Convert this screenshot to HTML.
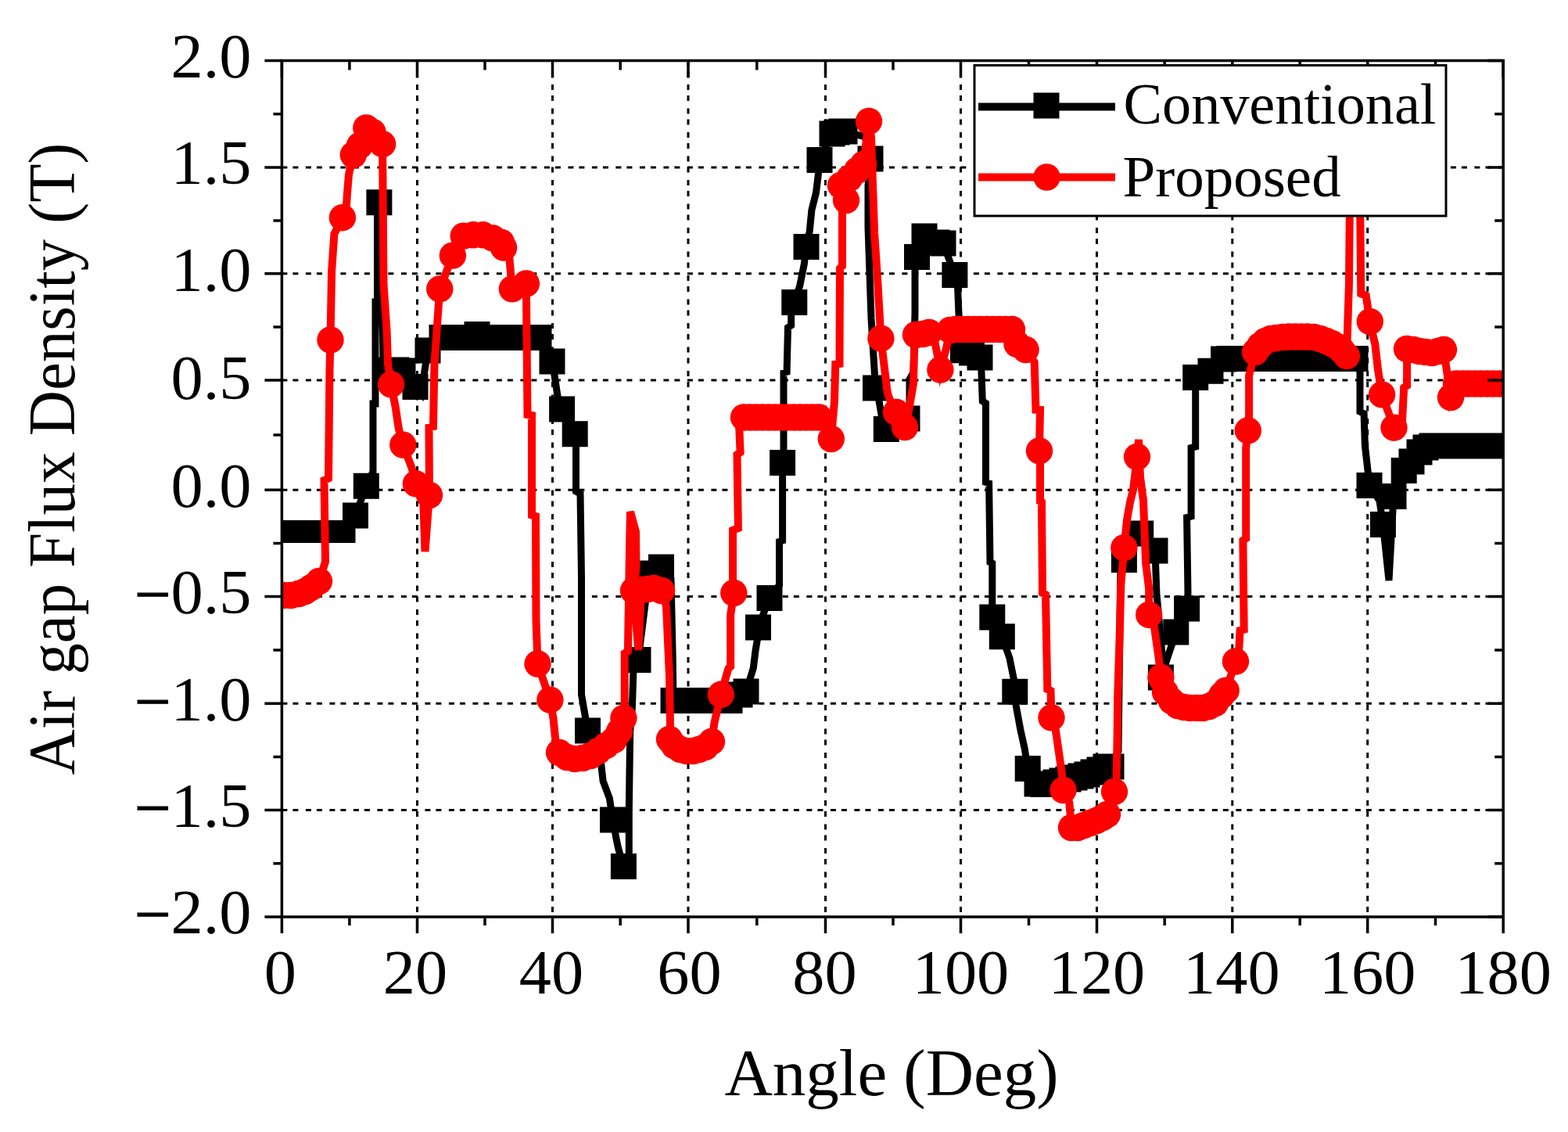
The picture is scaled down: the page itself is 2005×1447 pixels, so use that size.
<!DOCTYPE html><html><head><meta charset="utf-8"><style>html,body{margin:0;padding:0;background:#fff;}svg{display:block;}text{font-family:"Liberation Serif","Times New Roman",serif;fill:#000;}</style></head><body>
<svg width="2005" height="1447" viewBox="0 0 2005 1447">
<rect width="2005" height="1447" fill="#fff"/>
<defs><clipPath id="pc"><rect x="360.4" y="77.5" width="1561.8000000000002" height="1094.5"/></clipPath></defs>
<path d="M360.4 214H1922.2M360.4 349.8H1922.2M360.4 486H1922.2M360.4 626.2H1922.2M360.4 762.5H1922.2M360.4 899.2H1922.2M360.4 1035.5H1922.2M533.5 77.5V1172M706.5 77.5V1172M880 77.5V1172M1055.5 77.5V1172M1228.5 77.5V1172M1402.5 77.5V1172M1575.8 77.5V1172M1748.7 77.5V1172" stroke="#000" stroke-width="3.0" stroke-dasharray="7 7 7 9.5" fill="none"/>
<g clip-path="url(#pc)">
<path d="M325.5 665h33v29h-33zM333.5 665h33v29h-33zM341.5 665h33v29h-33zM349.5 665h33v29h-33zM357.5 665h33v29h-33zM365.5 665h33v29h-33zM373.5 665h33v29h-33zM381.5 665h33v29h-33zM389.5 665h33v29h-33zM397.5 665h33v29h-33zM405.5 665h33v29h-33zM413.5 665h33v29h-33zM421.5 665h33v29h-33zM438 642.6h33v33h-33zM451.8 604.7h33v33h-33zM468.4 242.3h33v33h-33zM482.5 456.5h33v33h-33zM490.5 456.5h33v33h-33zM498.5 457.5h33v33h-33zM514.5 478h33v33h-33zM530.5 431.5h33v33h-33zM548.5 415h33v33h-33zM556.5 415h33v33h-33zM564.5 415h33v33h-33zM572.5 415h33v33h-33zM580.5 415h33v33h-33zM588.5 415h33v33h-33zM593.5 411h33v33h-33zM596.5 415h33v33h-33zM604.5 415h33v33h-33zM612.5 415h33v33h-33zM620.5 415h33v33h-33zM628.5 415h33v33h-33zM636.5 415h33v33h-33zM644.5 415h33v33h-33zM652.5 415h33v33h-33zM660.5 415h33v33h-33zM668.5 415h33v33h-33zM672.5 415h33v33h-33zM689.5 445.5h33v33h-33zM702.1 506.5h33v33h-33zM718.7 538.3h33v33h-33zM735 917.5h33v33h-33zM767 1031.6h33v33h-33zM780.9 1091.1h33v33h-33zM799.5 827h33v33h-33zM813.5 716.5h33v33h-33zM829 708.5h33v33h-33zM844.5 879h33v33h-33zM852.5 879h33v33h-33zM860.5 879h33v33h-33zM868.5 879h33v33h-33zM876.5 879h33v33h-33zM884.5 879h33v33h-33zM892.5 879h33v33h-33zM900.5 879h33v33h-33zM908.5 879h33v33h-33zM916.5 879h33v33h-33zM929.5 871.5h33v33h-33zM937.5 867.5h33v33h-33zM953 785.5h33v33h-33zM967.5 748h33v33h-33zM984.1 575h33v33h-33zM999.3 370h33v33h-33zM1014.5 299h33v33h-33zM1031.5 188h33v33h-33zM1047.5 154.5h33v33h-33zM1053.5 152.5h33v33h-33zM1059.5 151.5h33v33h-33zM1063.5 151.5h33v33h-33zM1096.5 186.5h33v33h-33zM1103 479.6h33v33h-33zM1116.8 532.1h33v33h-33zM1131.5 528.5h33v33h-33zM1143.5 518.5h33v33h-33zM1156 312h33v33h-33zM1165.5 285.5h33v33h-33zM1173.5 293.5h33v33h-33zM1181.5 293.5h33v33h-33zM1189.5 294.5h33v33h-33zM1204.4 334.9h33v33h-33zM1214.9 431.2h33v33h-33zM1226 434.5h33v33h-33zM1236.5 440.5h33v33h-33zM1252.3 772.5h33v33h-33zM1264.8 797.2h33v33h-33zM1281.3 867.7h33v33h-33zM1297.7 966h33v33h-33zM1309.5 985.5h33v33h-33zM1317.5 986.1h33v33h-33zM1325.5 985.5h33v33h-33zM1333.5 983.5h33v33h-33zM1341.5 981.5h33v33h-33zM1349.5 979.5h33v33h-33zM1357.5 977.5h33v33h-33zM1365.5 975.5h33v33h-33zM1373.5 973.5h33v33h-33zM1381.5 970.5h33v33h-33zM1389.5 967.5h33v33h-33zM1397.5 963.5h33v33h-33zM1404.5 963.5h33v33h-33zM1420.9 698.9h33v33h-33zM1442.2 665.5h33v33h-33zM1460.5 687.5h33v33h-33zM1467.9 849.5h33v33h-33zM1487.3 791.5h33v33h-33zM1501.1 761.5h33v33h-33zM1512.2 466h33v33h-33zM1531.5 457.7h33v33h-33zM1548.1 442.5h33v33h-33zM1555.5 442h33v33h-33zM1562.5 442h33v33h-33zM1569.5 442h33v33h-33zM1576.5 442h33v33h-33zM1583.5 442h33v33h-33zM1590.5 442h33v33h-33zM1597.5 442h33v33h-33zM1604.5 442h33v33h-33zM1611.5 442h33v33h-33zM1618.5 442h33v33h-33zM1625.5 442h33v33h-33zM1632.5 442h33v33h-33zM1639.5 442h33v33h-33zM1646.5 442h33v33h-33zM1653.5 442h33v33h-33zM1660.5 442h33v33h-33zM1667.5 442h33v33h-33zM1674.5 442h33v33h-33zM1681.5 442h33v33h-33zM1688.5 442h33v33h-33zM1695.5 442h33v33h-33zM1702.5 442h33v33h-33zM1709.5 442h33v33h-33zM1716.5 442h33v33h-33zM1734.5 604h33v33h-33zM1751.9 653.9h33v33h-33zM1765.5 618.1h33v33h-33zM1778.7 584.9h33v33h-33zM1788.5 573.5h33v33h-33zM1798.5 561.5h33v33h-33zM1806.5 555.5h33v33h-33zM1814.5 553.5h33v33h-33zM1822.5 553.5h33v33h-33zM1830.5 553.5h33v33h-33zM1838.5 553.5h33v33h-33zM1846.5 553.5h33v33h-33zM1854.5 553.5h33v33h-33zM1862.5 553.5h33v33h-33zM1870.5 553.5h33v33h-33zM1878.5 553.5h33v33h-33zM1886.5 553.5h33v33h-33zM1894.5 553.5h33v33h-33zM1902.5 553.5h33v33h-33zM1910.5 553.5h33v33h-33zM1918.5 553.5h33v33h-33z" fill="#000"/>
<polyline points="342,679.5 350,679.5 358,679.5 366,679.5 374,679.5 382,679.5 390,679.5 398,679.5 406,679.5 414,679.5 422,679.5 430,679.5 438,679.5 454.5,659.1 468.3,621.2 477,603 477,516 480,516 480,386 482.5,386 482.5,270 484.9,258.8 489.5,430 490,458 499,473 507,473 515,474 531,494.5 538.5,503 547,448 565,431.5 573,431.5 581,431.5 589,431.5 597,431.5 605,431.5 610,427.5 613,431.5 621,431.5 629,431.5 637,431.5 645,431.5 653,431.5 661,431.5 669,431.5 677,431.5 685,431.5 689,431.5 706,462 708.9,478.8 713,506.5 718.6,523 735.2,554.8 736.5,570 736.5,628 742,631 743.5,738.7 743.5,887.8 751.5,934 768.3,973.5 771.1,998.4 779.4,1020.5 783.5,1048.1 787.7,1070.3 790.5,1084.1 797.4,1107.6 804.3,1092.4 804.3,1037.1 805.7,934.8 808.4,904.4 809.8,860.2 816,843.5 830,733 845.5,725 858,740 860,830 861,895.5 869,895.5 877,895.5 885,895.5 893,895.5 901,895.5 909,895.5 917,895.5 925,895.5 933,895.5 946,888 954,884 963.3,854 966,831.9 968.8,815.3 969.5,802 984,764.5 996.5,747.7 996.5,692.4 1000.6,691 1000.6,606.7 1000.6,591.5 1002,573.5 1002,476.8 1006.1,475.4 1007.5,418.7 1011.7,415.9 1011.7,402.1 1015.8,386.5 1022.7,365.3 1028.3,337.6 1031,315.5 1035.2,296.1 1037.9,268.5 1043.5,246.4 1046.2,224.3 1048,204.5 1064,171 1070,169 1076,168 1080,168 1106,175 1113,203 1110,237 1110,291 1114,406.7 1119.5,496.1 1123.6,509.9 1129.2,543.1 1133.3,548.6 1148,545 1160,535 1163,520 1163,485 1168,476 1170,400 1170,340 1172.5,328.5 1182,302 1190,310 1198,310 1206,311 1220.9,351.4 1224.5,365.3 1226,402 1231.4,447.7 1242.5,451 1253,457 1254.9,474 1256.3,512.7 1260.5,515.5 1260.5,616.4 1264.6,617.7 1266,718.6 1268.8,720 1268.8,789 1281.3,813.7 1290.9,841.1 1296.5,868.8 1297.8,884.2 1299.2,902 1304.8,932.4 1310.3,957.3 1314.2,982.5 1326,1002 1334,1002.6 1342,1002 1350,1000 1358,998 1366,996 1374,994 1382,992 1390,990 1398,987 1406,984 1414,980 1421,980 1430,960 1433,720 1437.4,715.4 1458.7,682 1477,704 1478.9,758.2 1487.2,849.4 1484.4,866 1503.8,808 1517.6,778 1519,758.2 1517.6,661.5 1523.1,660.1 1523.1,572.4 1528.7,571 1528.7,495 1528.7,482.5 1548,474.2 1564.6,459 1572,458.5 1579,458.5 1586,458.5 1593,458.5 1600,458.5 1607,458.5 1614,458.5 1621,458.5 1628,458.5 1635,458.5 1642,458.5 1649,458.5 1656,458.5 1663,458.5 1670,458.5 1677,458.5 1684,458.5 1691,458.5 1698,458.5 1705,458.5 1712,458.5 1719,458.5 1726,458.5 1733,458.5 1739,475 1739,526.2 1744.1,528.7 1745.4,569.6 1749.2,602.9 1751,620.5 1764,640 1768.4,670.4 1776,742 1782,634.6 1795.2,601.4 1805,590 1815,578 1823,572 1831,570 1839,570 1847,570 1855,570 1863,570 1871,570 1879,570 1887,570 1895,570 1903,570 1911,570 1919,570 1927,570 1935,570" fill="none" stroke="#000" stroke-width="9" stroke-linejoin="miter" stroke-miterlimit="6"/>
<g fill="#f00"><circle cx="345" cy="761" r="17.2"/><circle cx="352" cy="761" r="17.2"/><circle cx="362" cy="761" r="17.2"/><circle cx="372" cy="761" r="17.2"/><circle cx="382" cy="759" r="17.2"/><circle cx="390" cy="756" r="17.2"/><circle cx="398" cy="751" r="17.2"/><circle cx="408" cy="743" r="17.2"/><circle cx="422.5" cy="434.5" r="17.2"/><circle cx="437.9" cy="278.2" r="17.2"/><circle cx="451.8" cy="198" r="17.2"/><circle cx="460" cy="186" r="17.2"/><circle cx="468.3" cy="163.5" r="17.2"/><circle cx="476.6" cy="169" r="17.2"/><circle cx="489.1" cy="184.2" r="17.2"/><circle cx="500.1" cy="491.3" r="17.2"/><circle cx="515.3" cy="568.7" r="17.2"/><circle cx="531.9" cy="618.4" r="17.2"/><circle cx="549" cy="633" r="17.2"/><circle cx="562.3" cy="369.4" r="17.2"/><circle cx="578.9" cy="326.6" r="17.2"/><circle cx="592.7" cy="301.7" r="17.2"/><circle cx="605.2" cy="300.3" r="17.2"/><circle cx="617.6" cy="300.3" r="17.2"/><circle cx="630" cy="304.4" r="17.2"/><circle cx="641.1" cy="310" r="17.2"/><circle cx="644.1" cy="316.6" r="17.2"/><circle cx="654.9" cy="369.4" r="17.2"/><circle cx="672.9" cy="362.5" r="17.2"/><circle cx="687.5" cy="848.5" r="17.2"/><circle cx="703.4" cy="894.7" r="17.2"/><circle cx="715" cy="962" r="17.2"/><circle cx="725" cy="968" r="17.2"/><circle cx="735" cy="970" r="17.2"/><circle cx="745" cy="969" r="17.2"/><circle cx="755" cy="966" r="17.2"/><circle cx="765" cy="960" r="17.2"/><circle cx="775" cy="953" r="17.2"/><circle cx="785" cy="946" r="17.2"/><circle cx="792" cy="935" r="17.2"/><circle cx="797.4" cy="918" r="17.2"/><circle cx="810" cy="755" r="17.2"/><circle cx="820" cy="754" r="17.2"/><circle cx="828" cy="753" r="17.2"/><circle cx="836" cy="752" r="17.2"/><circle cx="846" cy="755" r="17.2"/><circle cx="856" cy="945" r="17.2"/><circle cx="862" cy="953" r="17.2"/><circle cx="870" cy="958" r="17.2"/><circle cx="878" cy="960" r="17.2"/><circle cx="886" cy="960" r="17.2"/><circle cx="894" cy="958" r="17.2"/><circle cx="902" cy="955" r="17.2"/><circle cx="910" cy="948" r="17.2"/><circle cx="921.8" cy="887.8" r="17.2"/><circle cx="938.3" cy="758" r="17.2"/><circle cx="951" cy="533.5" r="17.2"/><circle cx="959" cy="533.5" r="17.2"/><circle cx="967" cy="533.5" r="17.2"/><circle cx="975" cy="533.5" r="17.2"/><circle cx="983" cy="533.5" r="17.2"/><circle cx="991" cy="533.5" r="17.2"/><circle cx="999" cy="533.5" r="17.2"/><circle cx="1007" cy="533.5" r="17.2"/><circle cx="1015" cy="533.5" r="17.2"/><circle cx="1023" cy="533.5" r="17.2"/><circle cx="1031" cy="533.5" r="17.2"/><circle cx="1039" cy="533.5" r="17.2"/><circle cx="1047" cy="533.5" r="17.2"/><circle cx="1062.8" cy="561" r="17.2"/><circle cx="1082" cy="256" r="17.2"/><circle cx="1075" cy="237" r="17.2"/><circle cx="1086" cy="228" r="17.2"/><circle cx="1096" cy="218" r="17.2"/><circle cx="1104" cy="210" r="17.2"/><circle cx="1111" cy="155" r="17.2"/><circle cx="1126.4" cy="432.7" r="17.2"/><circle cx="1146" cy="527" r="17.2"/><circle cx="1157" cy="546" r="17.2"/><circle cx="1171" cy="428" r="17.2"/><circle cx="1180" cy="427" r="17.2"/><circle cx="1188" cy="425" r="17.2"/><circle cx="1202.4" cy="472.6" r="17.2"/><circle cx="1215" cy="422" r="17.2"/><circle cx="1222" cy="421" r="17.2"/><circle cx="1230" cy="421" r="17.2"/><circle cx="1238" cy="421" r="17.2"/><circle cx="1246" cy="421" r="17.2"/><circle cx="1254" cy="421" r="17.2"/><circle cx="1262" cy="421" r="17.2"/><circle cx="1270" cy="421" r="17.2"/><circle cx="1278" cy="421" r="17.2"/><circle cx="1286" cy="421" r="17.2"/><circle cx="1294" cy="421" r="17.2"/><circle cx="1300.5" cy="440" r="17.2"/><circle cx="1311.6" cy="447" r="17.2"/><circle cx="1329" cy="576.4" r="17.2"/><circle cx="1344.5" cy="917.3" r="17.2"/><circle cx="1359.5" cy="1010" r="17.2"/><circle cx="1370" cy="1058" r="17.2"/><circle cx="1378" cy="1058" r="17.2"/><circle cx="1386" cy="1055" r="17.2"/><circle cx="1394" cy="1052" r="17.2"/><circle cx="1402" cy="1049" r="17.2"/><circle cx="1410" cy="1045" r="17.2"/><circle cx="1416" cy="1041" r="17.2"/><circle cx="1425" cy="1012" r="17.2"/><circle cx="1437.4" cy="700.2" r="17.2"/><circle cx="1454" cy="584" r="17.2"/><circle cx="1469.2" cy="785.9" r="17.2"/><circle cx="1484.4" cy="866" r="17.2"/><circle cx="1490" cy="885" r="17.2"/><circle cx="1498" cy="896" r="17.2"/><circle cx="1506" cy="902" r="17.2"/><circle cx="1514" cy="904" r="17.2"/><circle cx="1522" cy="905" r="17.2"/><circle cx="1530" cy="905" r="17.2"/><circle cx="1538" cy="905" r="17.2"/><circle cx="1546" cy="903" r="17.2"/><circle cx="1554" cy="899" r="17.2"/><circle cx="1562" cy="889" r="17.2"/><circle cx="1567.7" cy="882.6" r="17.2"/><circle cx="1580" cy="845.5" r="17.2"/><circle cx="1595.8" cy="550.3" r="17.2"/><circle cx="1605" cy="450" r="17.2"/><circle cx="1611" cy="442" r="17.2"/><circle cx="1618" cy="436" r="17.2"/><circle cx="1625" cy="433" r="17.2"/><circle cx="1632" cy="432" r="17.2"/><circle cx="1640" cy="431" r="17.2"/><circle cx="1648" cy="430.5" r="17.2"/><circle cx="1656" cy="430.5" r="17.2"/><circle cx="1664" cy="430.5" r="17.2"/><circle cx="1672" cy="430.5" r="17.2"/><circle cx="1680" cy="431" r="17.2"/><circle cx="1688" cy="433" r="17.2"/><circle cx="1696" cy="436" r="17.2"/><circle cx="1703" cy="439" r="17.2"/><circle cx="1710" cy="443" r="17.2"/><circle cx="1716" cy="448" r="17.2"/><circle cx="1722" cy="455" r="17.2"/><circle cx="1751.8" cy="411.1" r="17.2"/><circle cx="1767.1" cy="504.4" r="17.2"/><circle cx="1782.5" cy="546.6" r="17.2"/><circle cx="1799" cy="446" r="17.2"/><circle cx="1807" cy="447" r="17.2"/><circle cx="1815" cy="449" r="17.2"/><circle cx="1823" cy="450" r="17.2"/><circle cx="1831" cy="451" r="17.2"/><circle cx="1839" cy="449" r="17.2"/><circle cx="1846" cy="447" r="17.2"/><circle cx="1855" cy="508" r="17.2"/><circle cx="1862" cy="490.5" r="17.2"/><circle cx="1870" cy="490.5" r="17.2"/><circle cx="1878" cy="490.5" r="17.2"/><circle cx="1886" cy="490.5" r="17.2"/><circle cx="1894" cy="490.5" r="17.2"/><circle cx="1902" cy="490.5" r="17.2"/><circle cx="1910" cy="490.5" r="17.2"/><circle cx="1918" cy="490.5" r="17.2"/><circle cx="1926" cy="490.5" r="17.2"/><circle cx="1934" cy="490.5" r="17.2"/><circle cx="1942" cy="490.5" r="17.2"/></g>
<polyline points="345,761 352,761 362,761 372,761 382,759 390,756 398,751 408,743 416,718 414.5,614 420,611.5 421.5,473 422.5,434.5 424.1,347.3 427.4,299 437.9,278.2 443,263 444,247 446,223 451.8,198 460,186 468.3,163.5 476.6,169 489.1,184.2 490.5,362.5 494.6,423.3 496,465 500.1,491.3 505.7,520.3 509.8,547.9 515.3,568.7 526.4,597.7 531.9,618.4 541,632 543.5,705 549,633 548.5,546.5 554,545.2 555.5,465 562.3,369.4 578.9,326.6 592.7,301.7 605.2,300.3 617.6,300.3 630,304.4 641.1,310 644.1,316.6 650.8,323.8 654.9,369.4 672.9,362.5 673,380 674.5,530 680,531 680,658.5 685,660 685.5,792.6 687.5,848.5 703.4,894.7 707.5,918.2 710.3,945.9 715,962 725,968 735,970 745,969 755,966 765,960 775,953 785,946 792,935 797.4,918 798.7,912.7 798.7,835.3 802.9,832.5 805,700 806,654 813,680 813.5,726 810,755 816.3,831 820,754 828,753 836,752 846,755 852,775 856,865 857,929 856,945 862,953 870,958 878,960 886,960 894,958 902,955 910,948 913.5,924 921.8,887.8 931.4,854.6 934.2,851.9 934.2,785.7 938.3,758 937,741.4 937,677.9 943.9,675.1 942.5,581.1 946.6,578.3 945.3,547.9 951,533.5 959,533.5 967,533.5 975,533.5 983,533.5 991,533.5 999,533.5 1007,533.5 1015,533.5 1023,533.5 1031,533.5 1039,533.5 1047,533.5 1062.8,561 1067,512.7 1068.3,465.7 1073.5,465 1074,343 1077,340 1077,268 1082,256 1075,237 1086,228 1096,218 1104,210 1111,155 1114,175 1116,235 1118.1,297.5 1122.2,358.3 1126.4,432.7 1134.7,501.6 1137.4,509.9 1146,527 1157,546 1162.3,523.7 1167.9,490.6 1169.2,443.6 1171,428 1180,427 1188,425 1196,440 1202.4,472.6 1210,445 1215,422 1222,421 1230,421 1238,421 1246,421 1254,421 1262,421 1270,421 1278,421 1286,421 1294,421 1300.5,440 1311.6,447 1322.7,462.9 1324.5,523.7 1330,524 1329,576.4 1330,591 1330,641 1332,642 1333,758 1337,760 1339.3,881 1343.5,883 1344.5,917.3 1349.8,932.9 1353.7,960 1357.6,987.1 1359.5,1010 1367.3,1025.8 1370,1058 1378,1058 1386,1055 1394,1052 1402,1049 1410,1045 1416,1041 1425,1012 1427.5,995 1428.5,951.7 1429.2,890.9 1431.9,805.2 1433.3,747.2 1437.4,700.2 1441,665 1445,642 1449,626 1454,584 1456,562 1458,610 1462,640 1465.1,719.5 1469.2,752.7 1469.2,785.9 1476.1,802.4 1481.7,841.1 1484.4,866 1490,885 1498,896 1506,902 1514,904 1522,905 1530,905 1538,905 1546,903 1554,899 1562,889 1567.7,882.6 1580,845.5 1584.3,829 1585.6,806 1590.7,804.7 1589.4,690.9 1593.2,688.3 1593.2,573.2 1595.8,550.3 1597.1,531.3 1597.1,480.1 1605,450 1611,442 1618,436 1625,433 1632,432 1640,431 1648,430.5 1656,430.5 1664,430.5 1672,430.5 1680,431 1688,433 1696,436 1703,439 1710,443 1716,448 1722,455 1725,362 1726,250 1739,250 1740.3,375.3 1746.7,377.9 1751.8,411.1 1755.6,429 1758.2,439.2 1762,472.5 1767.1,504.4 1772.2,518.5 1782.5,546.6 1792.7,544.1 1795.2,495.5 1799.1,492.9 1799.1,459.7 1799,446 1807,447 1815,449 1823,450 1831,451 1839,449 1846,447 1849,467.3 1855,508 1862,490.5 1870,490.5 1878,490.5 1886,490.5 1894,490.5 1902,490.5 1910,490.5 1918,490.5 1926,490.5 1934,490.5 1942,490.5" fill="none" stroke="#f00" stroke-width="10" stroke-linejoin="miter" stroke-miterlimit="6"/>
</g>
<rect x="360.4" y="77.5" width="1561.8" height="1094.5" fill="none" stroke="#000" stroke-width="3.5"/>
<path d="M338.4 77.5H360.4M1922.2 77.5H1902.2M338.4 214H360.4M1922.2 214H1902.2M338.4 349.8H360.4M1922.2 349.8H1902.2M338.4 486H360.4M1922.2 486H1902.2M338.4 626.2H360.4M1922.2 626.2H1902.2M338.4 762.5H360.4M1922.2 762.5H1902.2M338.4 899.2H360.4M1922.2 899.2H1902.2M338.4 1035.5H360.4M1922.2 1035.5H1902.2M338.4 1172H360.4M1922.2 1172H1902.2M349.4 145.8H360.4M1922.2 145.8H1911.2M349.4 281.9H360.4M1922.2 281.9H1911.2M349.4 417.9H360.4M1922.2 417.9H1911.2M349.4 556.1H360.4M1922.2 556.1H1911.2M349.4 694.4H360.4M1922.2 694.4H1911.2M349.4 830.9H360.4M1922.2 830.9H1911.2M349.4 967.4H360.4M1922.2 967.4H1911.2M349.4 1103.8H360.4M1922.2 1103.8H1911.2M360.4 1172V1193M360.4 77.5V99.5M533.5 1172V1193M533.5 77.5V99.5M706.5 1172V1193M706.5 77.5V99.5M880 1172V1193M880 77.5V99.5M1055.5 1172V1193M1055.5 77.5V99.5M1228.5 1172V1193M1228.5 77.5V99.5M1402.5 1172V1193M1402.5 77.5V99.5M1575.8 1172V1193M1575.8 77.5V99.5M1748.7 1172V1193M1748.7 77.5V99.5M1922.2 1172V1193M1922.2 77.5V99.5M446.9 1172V1183M446.9 77.5V89.5M620 1172V1183M620 77.5V89.5M793.2 1172V1183M793.2 77.5V89.5M967.8 1172V1183M967.8 77.5V89.5M1142 1172V1183M1142 77.5V89.5M1315.5 1172V1183M1315.5 77.5V89.5M1489.2 1172V1183M1489.2 77.5V89.5M1662.2 1172V1183M1662.2 77.5V89.5M1835.5 1172V1183M1835.5 77.5V89.5" stroke="#000" stroke-width="3.5" fill="none"/>
<text x="321.5" y="99" text-anchor="end" font-size="80" transform="translate(321.5 0) scale(1.03 1) translate(-321.5 0)">2.0</text><text x="321.5" y="235.5" text-anchor="end" font-size="80" transform="translate(321.5 0) scale(1.03 1) translate(-321.5 0)">1.5</text><text x="321.5" y="372.3" text-anchor="end" font-size="80" transform="translate(321.5 0) scale(1.03 1) translate(-321.5 0)">1.0</text><text x="321.5" y="510" text-anchor="end" font-size="80" transform="translate(321.5 0) scale(1.03 1) translate(-321.5 0)">0.5</text><text x="321.5" y="647.7" text-anchor="end" font-size="80" transform="translate(321.5 0) scale(1.03 1) translate(-321.5 0)">0.0</text><text x="321.5" y="784" text-anchor="end" font-size="80" transform="translate(321.5 0) scale(1.03 1) translate(-321.5 0)"><tspan dy="3" stroke="#000" stroke-width="1.2">−</tspan><tspan dy="-3">0.5</tspan></text><text x="321.5" y="920.7" text-anchor="end" font-size="80" transform="translate(321.5 0) scale(1.03 1) translate(-321.5 0)"><tspan dy="3" stroke="#000" stroke-width="1.2">−</tspan><tspan dy="-3">1.0</tspan></text><text x="321.5" y="1057" text-anchor="end" font-size="80" transform="translate(321.5 0) scale(1.03 1) translate(-321.5 0)"><tspan dy="3" stroke="#000" stroke-width="1.2">−</tspan><tspan dy="-3">1.5</tspan></text><text x="321.5" y="1193.5" text-anchor="end" font-size="80" transform="translate(321.5 0) scale(1.03 1) translate(-321.5 0)"><tspan dy="3" stroke="#000" stroke-width="1.2">−</tspan><tspan dy="-3">2.0</tspan></text><text x="358.4" y="1270" text-anchor="middle" font-size="80" transform="translate(358.4 0) scale(1.03 1) translate(-358.4 0)">0</text><text x="531" y="1270" text-anchor="middle" font-size="80" transform="translate(531 0) scale(1.03 1) translate(-531 0)">20</text><text x="705" y="1270" text-anchor="middle" font-size="80" transform="translate(705 0) scale(1.03 1) translate(-705 0)">40</text><text x="881.5" y="1270" text-anchor="middle" font-size="80" transform="translate(881.5 0) scale(1.03 1) translate(-881.5 0)">60</text><text x="1054.5" y="1270" text-anchor="middle" font-size="80" transform="translate(1054.5 0) scale(1.03 1) translate(-1054.5 0)">80</text><text x="1228.5" y="1270" text-anchor="middle" font-size="80" transform="translate(1228.5 0) scale(1.03 1) translate(-1228.5 0)">100</text><text x="1402.5" y="1270" text-anchor="middle" font-size="80" transform="translate(1402.5 0) scale(1.03 1) translate(-1402.5 0)">120</text><text x="1574.8" y="1270" text-anchor="middle" font-size="80" transform="translate(1574.8 0) scale(1.03 1) translate(-1574.8 0)">140</text><text x="1748.7" y="1270" text-anchor="middle" font-size="80" transform="translate(1748.7 0) scale(1.03 1) translate(-1748.7 0)">160</text><text x="1922.2" y="1270" text-anchor="middle" font-size="80" transform="translate(1922.2 0) scale(1.03 1) translate(-1922.2 0)">180</text>
<text x="1140" y="1400" text-anchor="middle" font-size="85">Angle (Deg)</text>
<text transform="translate(95 586.5) rotate(-90)" text-anchor="middle" font-size="84" textLength="808" lengthAdjust="spacingAndGlyphs">Air gap Flux Density (T)</text>
<rect x="1246" y="83.5" width="603" height="192.5" fill="#fff" stroke="#000" stroke-width="3"/>
<path d="M1251 136.5H1426" stroke="#000" stroke-width="10"/>
<rect x="1321.5" y="118.5" width="33" height="33" fill="#000"/>
<path d="M1251 226.5H1426" stroke="#f00" stroke-width="10"/>
<circle cx="1338.5" cy="226.5" r="17.2" fill="#f00"/>
<text x="1436.5" y="158" font-size="75" textLength="400" lengthAdjust="spacingAndGlyphs">Conventional</text>
<text x="1435.5" y="250.5" font-size="75">Proposed</text>
</svg></body></html>
